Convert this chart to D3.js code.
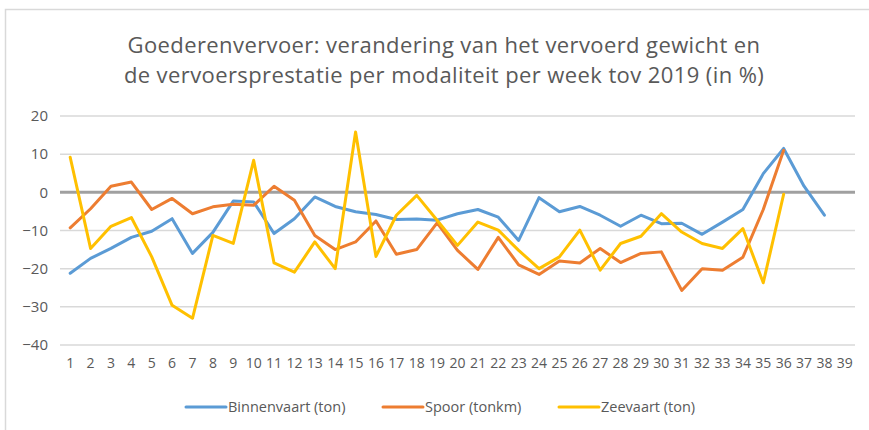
<!DOCTYPE html>
<html>
<head>
<meta charset="utf-8">
<script src="https://cdn.jsdelivr.net/npm/d3@7"></script>
<style>
  body { margin: 0; background: #fff; }
  text { font-family: "Open Sans", "Noto Sans", sans-serif; fill: #595959; }
</style>
</head>
<body>
<div id="chart"></div>
<script>
// weeks 1..39
const weeks = d3.range(1, 40).map(String)
const yTicks = [20, 10, 0, -10, -20, -30, -40]

const seriesNames = ["Binnenvaart (ton)", "Spoor (tonkm)", "Zeevaart (ton)"]
const seriesColors = ["#5b9bd5", "#ed7d31", "#ffc000"]

const binnenvaart = [-21.2, -17.3, -14.7, -11.8, -10.2, -6.9, -16, -10.5, -2.3, -2.5,
  -10.8, -6.9, -1.2, -3.7, -5.1, -5.8, -7.1, -7, -7.3, -5.6,
  -4.5, -6.5, -12.6, -1.4, -5.1, -3.7, -6, -8.9, -6, -8.2,
  -8.1, -11, -7.8, -4.5, 4.9, 11.5, 1.6, -6]
const spoor = [-9.3, -4.3, 1.6, 2.7, -4.5, -1.6, -5.6, -3.8, -3.1, -3.4,
  1.6, -2.1, -11.3, -15, -13, -7.5, -16.2, -15, -8, -15.2,
  -20.2, -11.8, -19, -21.5, -18, -18.5, -14.7, -18.4, -16, -15.6,
  -25.7, -20, -20.4, -17, -4.5, 11]
const zeevaart = [9.2, -14.7, -8.9, -6.6, -16.9, -29.6, -33, -11.3, -13.4, 8.4,
  -18.5, -20.9, -13, -20, 15.8, -16.8, -6, -0.8, -7.3, -13.9,
  -7.8, -9.9, -15.2, -20, -16.9, -9.9, -20.4, -13.4, -11.5, -5.6,
  -10.4, -13.4, -14.7, -9.5, -23.7, -0.5]

const series = [binnenvaart, spoor, zeevaart]

const W = 869, H = 430
const margin = { top: 116, right: 14, bottom: 85, left: 60 }
const width = W - margin.left - margin.right
const height = H - margin.top - margin.bottom

const svg = d3.select("#chart").append("svg")
  .attr("width", W)
  .attr("height", H)

// chart frame (cropped at the right and bottom)
svg.append("path")
  .attr("d", "M5.5," + H + "V9.5H" + W)
  .attr("fill", "none")
  .attr("stroke", "#d9d9d9")
  .attr("stroke-width", 1.5)

// title
const title = svg.append("text")
  .attr("text-anchor", "middle")
  .style("font-size", "22px")
  .style("letter-spacing", "0.4px")
title.append("tspan").attr("x", 444).attr("y", 53)
  .text("Goederenvervoer: verandering van het vervoerd gewicht en")
title.append("tspan").attr("x", 444).attr("y", 83)
  .text("de vervoersprestatie per modaliteit per week tov 2019 (in %)")

const g = svg.append("g")
  .attr("transform", "translate(" + margin.left + "," + margin.top + ")")

const x = d3.scaleBand().domain(weeks).range([0, width])
const y = d3.scaleLinear().domain([-40, 20]).range([height, 0])

// gridlines
g.append("g")
  .selectAll("line")
  .data(yTicks)
  .join("line")
  .attr("x1", 0)
  .attr("x2", width)
  .attr("y1", d => y(d))
  .attr("y2", d => y(d))
  .attr("stroke", d => d === 0 ? "#a0a0a0" : "#d9d9d9")
  .attr("stroke-width", d => d === 0 ? 3 : 1.5)

// y axis labels
const yAxis = g.append("g")
  .call(d3.axisLeft(y).tickValues(yTicks).tickSize(0).tickPadding(12))
yAxis.select(".domain").remove()
yAxis.selectAll("text")
  .style("font-size", "15px")
  .style("font-family", "\"Open Sans\", sans-serif")
  .attr("fill", "#595959")

// x axis labels
const xAxis = g.append("g")
  .attr("transform", "translate(0," + height + ")")
  .call(d3.axisBottom(x).tickSize(0).tickPadding(13))
xAxis.select(".domain").remove()
xAxis.selectAll("text")
  .style("font-size", "14px")
  .style("font-family", "\"Open Sans\", sans-serif")
  .attr("fill", "#595959")

// lines
const line = d3.line()
  .x((d, i) => x(weeks[i]) + x.bandwidth() / 2)
  .y(d => y(d))

g.append("g")
  .selectAll("path")
  .data(series)
  .join("path")
  .attr("d", d => line(d))
  .attr("fill", "none")
  .attr("stroke", (d, i) => seriesColors[i])
  .attr("stroke-width", 3)
  .attr("stroke-linejoin", "round")
  .attr("stroke-linecap", "round")

// legend
const legendX = [186, 383, 559]
const legend = svg.append("g")
  .selectAll("g")
  .data(seriesNames)
  .join("g")
  .attr("transform", (d, i) => "translate(" + legendX[i] + ",407)")
legend.append("line")
  .attr("x1", 0).attr("x2", 40)
  .attr("stroke", (d, i) => seriesColors[i])
  .attr("stroke-width", 3)
  .attr("stroke-linecap", "round")
legend.append("text")
  .attr("x", 42)
  .attr("dy", "0.35em")
  .style("font-size", "14.5px")
  .text(d => d)
</script>
</body>
</html>
